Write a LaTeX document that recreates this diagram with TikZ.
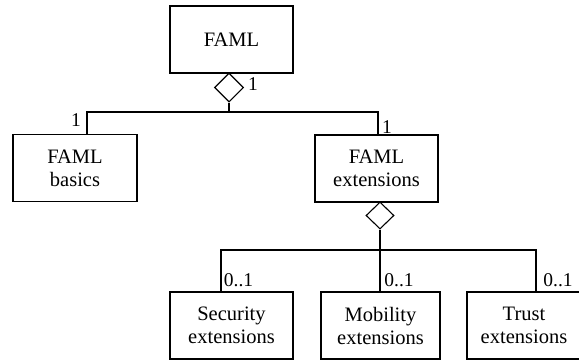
\documentclass[tikz,border=0pt]{standalone}
\usepackage{fontspec}
\setmainfont{Liberation Serif}
\usetikzlibrary{shapes.geometric}
\begin{document}
\begin{tikzpicture}[x=1pt,y=-1pt,
  box/.style={draw,line width=1.1pt,align=center,inner sep=0pt,
    minimum height=67pt,font=\fontsize{20.5}{23}\selectfont},
  agg/.style={draw,diamond,line width=1.1pt,inner sep=0pt,
    minimum width=29pt,minimum height=29pt},
  link/.style={line width=1.1pt},
  mult/.style={inner sep=0pt,font=\fontsize{19.5}{21}\selectfont}]
\useasboundingbox (0,0) rectangle (579,360);
\clip (0,0) rectangle (579,360);

% classes
\node[box,minimum width=123pt] (faml)   at (231.5,39.5)  {FAML};
\node[box,minimum width=124pt] (basics) at (75,168)      {FAML\\basics};
\node[box,minimum width=123pt] (ext)    at (376.5,168.5) {FAML\\extensions};
\node[box,minimum width=123pt] (sec)    at (231.5,325.5) {Security\\extensions};
\node[box,minimum width=119pt] (mob)    at (380.5,325.5) {Mobility\\extensions};
\node[box,minimum width=114pt] (trust)  at (524,325.5)   {Trust\\extensions};

% aggregation diamonds
\node[agg] (d1) at (229,87.5) {};
\node[agg,minimum width=28pt,minimum height=27pt] (d2) at (380,215.5) {};

% upper aggregation
\coordinate (b1) at (87,112);
\coordinate (e1) at (378,112);
\draw[link] (d1.south) -- (d1.south |- b1);
\draw[link] (basics.north -| b1) -- (b1) -- (e1) -- (ext.north -| e1);

% lower aggregation
\coordinate (s1) at (221,250);
\coordinate (t1) at (536,250);
\draw[link] (d2.south) -- (d2.south |- s1) -- (mob.north -| d2.south);
\draw[link] (sec.north -| s1) -- (s1) -- (t1) -- (trust.north -| t1);

% multiplicities
\node[mult] (m0) at (253,84.5) {1};
\node[mult] (m1) at (76,120)   {1};
\node[mult] (m2) at (387,127)  {1};
\node[mult] (m3) at (238.5,280) {0..1};
\node[mult] (m4) at (399,280)  {0..1};
\node[mult] (m5) at (558,280)  {0..1};
\end{tikzpicture}
\end{document}
